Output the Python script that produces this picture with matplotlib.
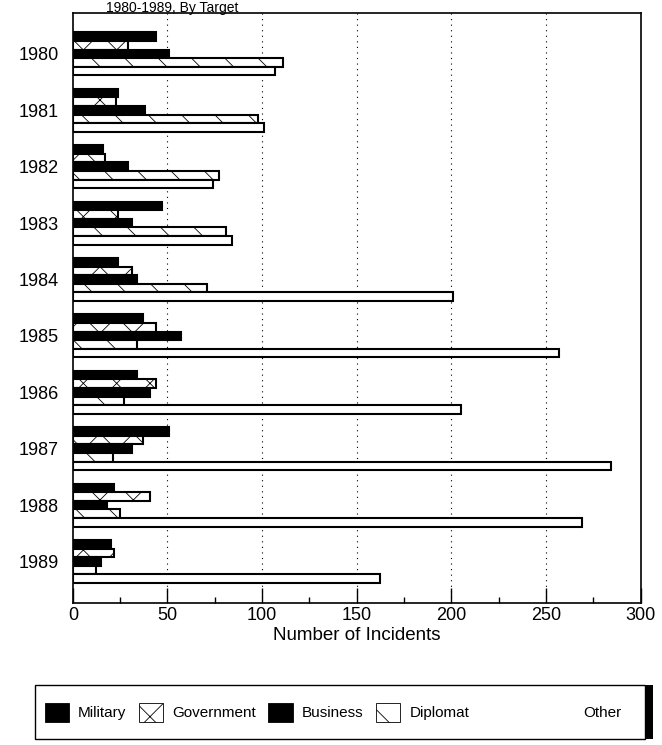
import matplotlib
matplotlib.use("Agg")
import matplotlib.pyplot as plt
from matplotlib.patches import Patch, Rectangle
import numpy as np

plt.rcParams['font.family'] = ['Liberation Sans', 'DejaVu Sans']
plt.rcParams['hatch.linewidth'] = 0.6

years = ["1980", "1981", "1982", "1983", "1984", "1985", "1986", "1987", "1988", "1989"]
military = [44, 24, 16, 47, 24, 37, 34, 51, 22, 20]
government = [29, 23, 17, 24, 31, 44, 44, 37, 41, 22]
business = [51, 38, 29, 31, 34, 57, 41, 31, 18, 15]
diplomat = [111, 98, 77, 81, 71, 34, 27, 21, 25, 12]
other = [107, 101, 74, 84, 201, 257, 205, 284, 269, 162]

series = [
    ("Military", military, "black", None),
    ("Government", government, "white", "x"),
    ("Business", business, "black", None),
    ("Diplomat", diplomat, "white", "\\"),
    ("Other", other, "white", None),
]

fig = plt.figure(figsize=(6.62, 7.45), dpi=100)
ax = fig.add_axes([0.110, 0.191, 0.858, 0.792])

y = np.arange(len(years))
h = 0.152
for k, (name, vals, fc, hatch) in enumerate(series):
    ax.barh(y + (k - 2) * h, vals, height=h, color=fc, edgecolor="black",
            linewidth=1.5, hatch=hatch, zorder=3)

ax.set_xlim(0, 300)
ax.set_ylim(9.73, -0.73)
ax.set_yticks(y)
ax.set_yticklabels(years, fontsize=13)
ax.tick_params(axis="y", length=0, pad=10)
ax.set_xticks(np.arange(0, 301, 50))
ax.set_xticks(np.arange(25, 300, 50), minor=True)
ax.tick_params(axis="x", which="major", direction="in", length=11, width=1, labelsize=13, pad=3)
ax.tick_params(axis="x", which="minor", direction="in", length=4, width=1)
for s in ax.spines.values():
    s.set_linewidth(1.2)
for g in range(50, 300, 50):
    ax.axvline(g, color="black", linestyle=(0, (1, 4)), linewidth=0.8, zorder=1)
ax.set_xlabel("Number of Incidents", fontsize=13.5, labelpad=2)

fig.text(0.16, 0.999, "1980-1989, By Target", fontsize=10, ha="left", va="top")

# legend: frame drawn by hand, first four entries packed left, "Other" on the right
fig.add_artist(Rectangle((0.053, 0.008), 0.922, 0.072, transform=fig.transFigure,
                         facecolor="white", edgecolor="black", linewidth=1.0))
fig.add_artist(Rectangle((0.975, 0.008), 0.012, 0.072, transform=fig.transFigure,
                         facecolor="black", edgecolor="none"))

handles = [Patch(facecolor=fc, edgecolor="black", hatch=hatch, linewidth=0.6)
           for _, _, fc, hatch in series[:4]]
labels = [s[0] for s in series[:4]]
leg1 = fig.legend(handles, labels, ncol=4, loc="center left",
                  bbox_to_anchor=(0.058, 0.044), frameon=False, fontsize=11,
                  handlelength=1.6, handleheight=1.5, columnspacing=0.8,
                  handletextpad=0.6, borderaxespad=0)
leg2 = fig.legend([Patch(facecolor="white", edgecolor="none")], [series[4][0]],
                  loc="center right", bbox_to_anchor=(0.948, 0.044), frameon=False,
                  fontsize=11, handlelength=1.5, handleheight=1.5,
                  handletextpad=0.6, borderaxespad=0)

fig.savefig("out.png", dpi=100)
